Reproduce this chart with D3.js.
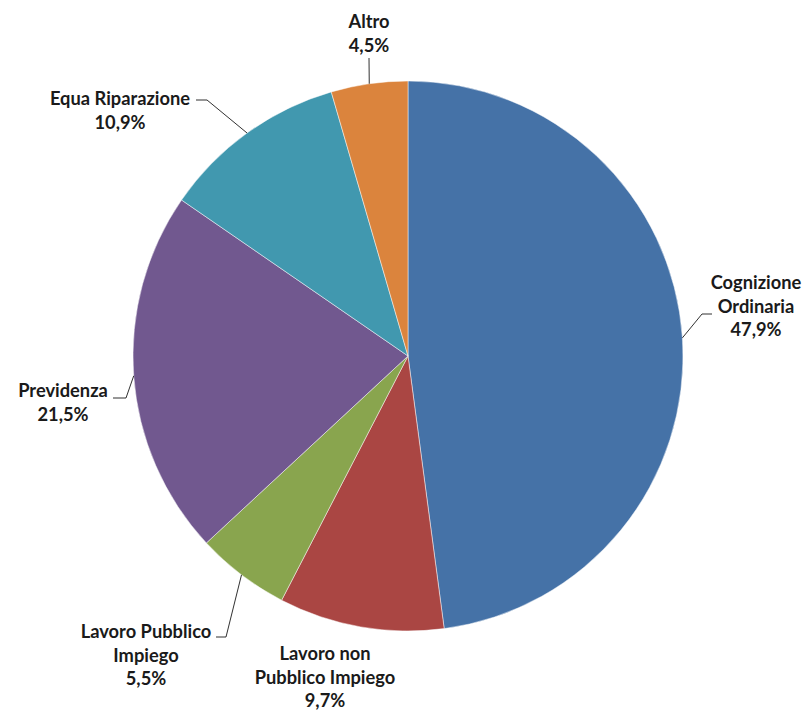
<!DOCTYPE html>
<html>
<head>
<meta charset="utf-8">
<script src="https://cdn.jsdelivr.net/npm/d3@7"></script>
<style>
  html, body { margin: 0; padding: 0; background: #fff; }
  svg { display: block; }
  .lbl { font-family: Lato, "Open Sans", sans-serif; font-weight: bold; font-size: 18.3px; fill: #1a1a1a; }
</style>
</head>
<body>
<svg id="chart" width="803" height="710"></svg>
<script>
// ---- data ----
const categories = ["Cognizione Ordinaria", "Lavoro non Pubblico Impiego", "Lavoro Pubblico Impiego", "Previdenza", "Equa Riparazione", "Altro"];
const values = [47.9, 9.7, 5.5, 21.5, 10.9, 4.5];
const labelLines = [
  ["Cognizione", "Ordinaria"],
  ["Lavoro non", "Pubblico Impiego"],
  ["Lavoro Pubblico", "Impiego"],
  ["Previdenza"],
  ["Equa Riparazione"],
  ["Altro"]
];
const colors = ["#4572A7", "#AA4643", "#89A54E", "#71588F", "#4198AF", "#DB843D"];

// ---- layout (label placement) ----
const cx = 408, cy = 356, R = 275;
const labelLayout = [
  { tx: 756, ty: 283, elbow: [702, 314], end: [712, 314] },
  { tx: 325, ty: 654, elbow: null, end: null },
  { tx: 146, ty: 632, elbow: [226, 637], end: [216, 637] },
  { tx: 63,  ty: 391, elbow: [126, 398], end: [113, 398] },
  { tx: 120, ty: 99,  elbow: [207, 100], end: [196, 100] },
  { tx: 369, ty: 22,  elbow: [369, 58],  end: [369, 58] }
];
const lineH = 23.5;

const fmt = v => d3.format(".1f")(v).replace(".", ",") + "%";

const svg = d3.select("#chart");
const g = svg.append("g").attr("transform", `translate(${cx},${cy})`);

const pie = d3.pie().sort(null).value(d => d.v).startAngle(0).endAngle(2 * Math.PI);
const data = categories.map((c, i) => ({ c, v: values[i], i }));
const arcs = pie(data);
const arcGen = d3.arc().innerRadius(0).outerRadius(R);
const color = d3.scaleOrdinal().domain(categories).range(colors);

g.selectAll("path.slice").data(arcs).enter().append("path")
  .attr("class", "slice")
  .attr("d", arcGen)
  .attr("fill", d => color(d.data.c))
  .attr("stroke", "#ffffff")
  .attr("stroke-width", 0.8)
  .attr("stroke-opacity", 0.6);

// leader lines
arcs.forEach((a, i) => {
  const L = labelLayout[i];
  if (!L.elbow) return;
  const mid = (a.startAngle + a.endAngle) / 2;
  const ex = cx + R * Math.sin(mid), ey = cy - R * Math.cos(mid);
  const pts = [[ex, ey], L.elbow, L.end];
  svg.append("path")
    .attr("d", d3.line()(pts))
    .attr("fill", "none")
    .attr("stroke", "#1a1a1a")
    .attr("stroke-width", 0.9);
});

// labels
arcs.forEach((a, i) => {
  const L = labelLayout[i];
  const lines = labelLines[i].concat([fmt(a.data.v)]);
  const t = svg.append("text").attr("class", "lbl").attr("text-anchor", "middle");
  lines.forEach((ln, k) => {
    t.append("tspan")
      .attr("x", L.tx)
      .attr("y", L.ty + k * lineH)
      .attr("dy", "0.35em")
      .text(ln);
  });
});
</script>
</body>
</html>
